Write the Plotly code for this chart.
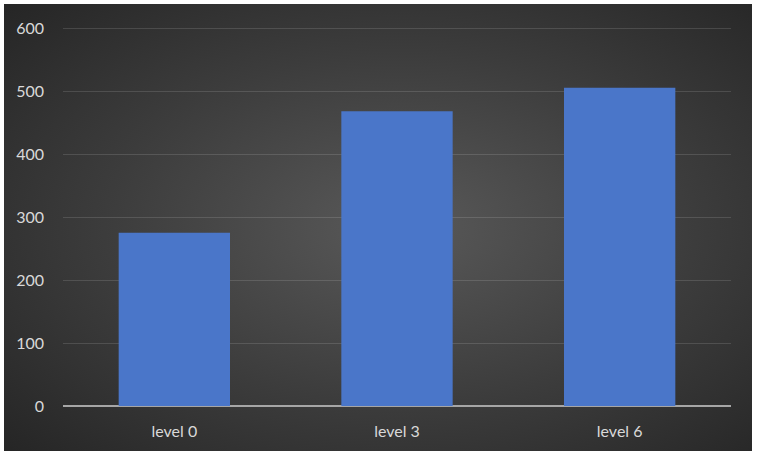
import base64
import plotly.graph_objects as go

categories = ["level 0", "level 3", "level 6"]
values = [275, 468, 505]
y_ticks = [0, 100, 200, 300, 400, 500, 600]

W, H = 759, 460
PX_PER_UNIT = 0.63   # 63 px per 100 units in the reference
Y_MAX = 610

svg = (
    "<svg xmlns='http://www.w3.org/2000/svg' width='748' height='447' preserveAspectRatio='none'>"
    "<defs><radialGradient id='g' cx='0.53' cy='0.5' r='0.72'>"
    "<stop offset='0' stop-color='#595959'/>"
    "<stop offset='0.55' stop-color='#3c3c3c'/>"
    "<stop offset='1' stop-color='#262626'/>"
    "</radialGradient></defs>"
    "<rect width='748' height='447' fill='url(#g)'/></svg>"
)
src = "data:image/svg+xml;base64," + base64.b64encode(svg.encode()).decode()

fig = go.Figure()
fig.add_trace(go.Bar(
    x=categories,
    y=values,
    width=0.5,
    marker=dict(color="#4a76c9", line=dict(width=0)),
    hoverinfo="skip",
))

top_px = 406 - Y_MAX * PX_PER_UNIT

fig.update_layout(
    width=W,
    height=H,
    margin=dict(l=0, r=0, t=0, b=0, autoexpand=False),
    paper_bgcolor="white",
    plot_bgcolor="rgba(0,0,0,0)",
    showlegend=False,
    font=dict(family="Lato, 'Open Sans', sans-serif", size=16, color="#d9d9d9"),
    images=[dict(
        source=src,
        xref="paper", yref="paper",
        x=4 / W, y=1 - 4 / H,
        sizex=748 / W, sizey=447 / H,
        xanchor="left", yanchor="top",
        sizing="stretch",
        layer="below",
    )],
    xaxis=dict(
        domain=[63 / W, 731 / W],
        automargin=False,
        showgrid=False,
        showline=False,
        ticks="",
        ticklabelstandoff=14,
        tickfont=dict(size=16, color="#d9d9d9"),
    ),
    yaxis=dict(
        domain=[1 - 406 / H, 1 - top_px / H],
        automargin=False,
        range=[0, Y_MAX],
        tickvals=y_ticks,
        showgrid=True,
        gridcolor="rgba(255,255,255,0.13)",
        gridwidth=1,
        zeroline=True,
        zerolinecolor="#a6a6a6",
        zerolinewidth=2,
        showline=False,
        ticks="",
        ticklabelstandoff=18,
        tickfont=dict(size=16, color="#d9d9d9"),
    ),
)

fig.write_html(
    "out.html",
    config={"displayModeBar": False},
    post_script="document.body.style.margin='0';",
)
